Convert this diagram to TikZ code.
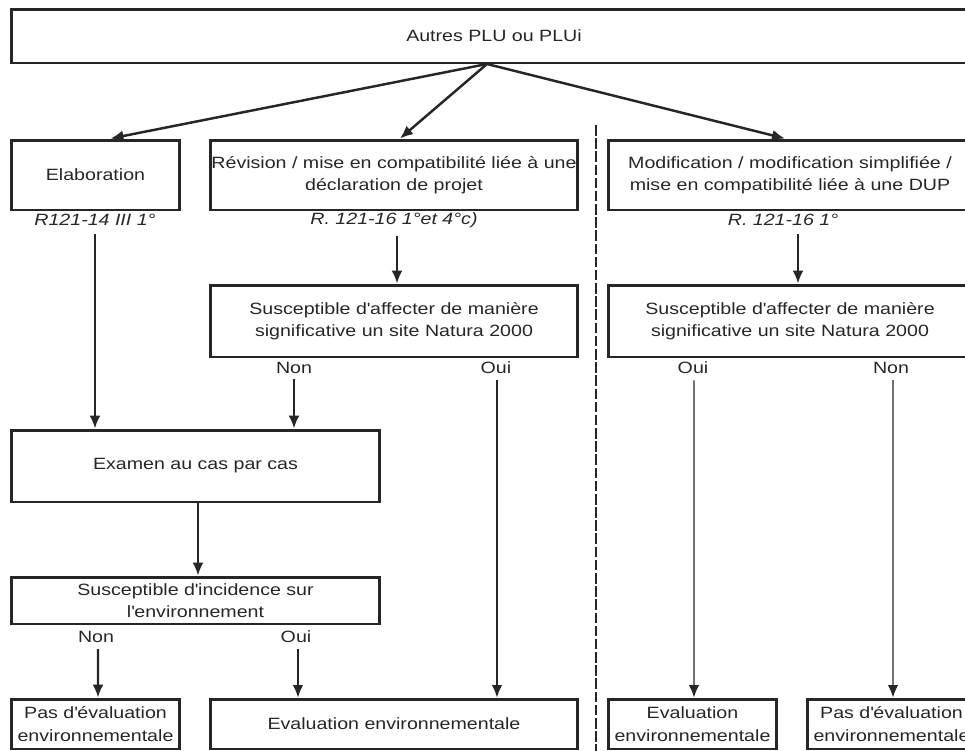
\documentclass[tikz,border=0pt]{standalone}
\usepackage{fontspec}
\setmainfont[FakeStretch=1.2]{Liberation Sans}
\usepackage{tikz}
\usetikzlibrary{arrows.meta, calc}

\tikzset{
  box/.style={draw=black!85, line width=1.7pt, inner sep=0pt, align=center,
    text=black!85, font=\fontsize{9.3}{12.8}\selectfont},
  note/.style={inner sep=0pt, text=black!85, font=\fontsize{9.3}{12.8}\selectfont},
  refnote/.style={note, font=\fontsize{9.3}{12.8}\selectfont\itshape},
  toparr/.style={black!85, line width=1.4pt, -{Latex[length=0.26cm, width=0.22cm]}},
  arr/.style={black!85, line width=1.2pt, -{Latex[length=0.26cm, width=0.22cm]}},
  thinarr/.style={black!85, line width=0.8pt, -{Latex[length=0.25cm, width=0.21cm]}},
  sep/.style={black!85, line width=1pt, dash pattern=on 6pt off 1.5pt}
}
\newcommand{\apos}{\textquotesingle}

\begin{document}
\begin{tikzpicture}[x=0.02cm, y=-0.02cm]
                    \useasboundingbox (0,0) rectangle (965,751);
                    \clip (0,0) rectangle (965,751);
                    \node[box, minimum width=19.32cm, minimum height=1.08cm] (plu) at (494,36) {Autres PLU ou PLUi};
                    \node[box, minimum width=3.38cm, minimum height=1.4cm] (elab) at (95.5,175) {Elaboration};
                    \node[box, minimum width=7.36cm, minimum height=1.4cm] (rev) at (394,175) {Révision / mise en compatibilité liée à une\\déclaration de projet};
                    \node[box, minimum width=7.28cm, minimum height=1.4cm] (modif) at (790,175) {Modification / modification simplifiée /\\mise en compatibilité liée à une DUP};
                    \node[refnote] (refelab) at (95,220) {R121-14 III 1°};
                    \node[refnote] (refrev) at (394,220) {R. 121-16 1°et 4°c)};
                    \node[refnote] (refmodif) at (783,220) {R. 121-16 1°};
                    \node[box, minimum width=7.36cm, minimum height=1.44cm] (natg) at (394,321) {Susceptible d\apos affecter de manière\\significative un site Natura 2000};
                    \node[box, minimum width=7.28cm, minimum height=1.44cm] (natd) at (790,321) {Susceptible d\apos affecter de manière\\significative un site Natura 2000};
                    \node[note] (nong) at (294,368) {Non};
                    \node[note] (ouig) at (496,368) {Oui};
                    \node[note] (ouid) at (693,368) {Oui};
                    \node[note] (nond) at (891,368) {Non};
                    \node[box, minimum width=7.38cm, minimum height=1.44cm] (exam) at (195.5,466) {Examen au cas par cas};
                    \node[box, minimum width=7.38cm, minimum height=0.94cm] (incid) at (195.5,600.5) {Susceptible d\apos incidence sur\\l\apos environnement};
                    \node[note] (noninc) at (96,637) {Non};
                    \node[note] (ouiinc) at (296,637) {Oui};
                    \node[box, minimum width=3.38cm, minimum height=1.0cm] (pasg) at (95.5,724) {Pas d\apos évaluation\\environnementale};
                    \node[box, minimum width=7.36cm, minimum height=1.0cm] (evalg) at (394,724) {Evaluation environnementale};
                    \node[box, minimum width=3.38cm, minimum height=1.0cm] (evald) at (692.5,724) {Evaluation\\environnementale};
                    \node[box, minimum width=3.38cm, minimum height=1.0cm] (pasd) at (891.5,724) {Pas d\apos évaluation\\environnementale};
                    % arrows from the top box
                    \coordinate (fork) at (487,64);
                    \draw[toparr] (fork) -- ($(elab.north)+(15,0)$);
                    \draw[toparr] (fork) -- ($(rev.north)+(6,0)$);
                    \draw[toparr] (fork) -- ($(modif.north)+(-5,0)$);
                    \draw[arr] ($(refelab.south)+(0,8)$) -- (refelab.south |- exam.north);
                    \draw[arr] ($(refrev.south)+(3,8)$) -- ($(natg.north)+(3,0)$);
                    \draw[arr] ($(refmodif.south)+(15,8)$) -- ($(natd.north)+(8,0)$);
                    \draw[arr] ($(nong.south)+(0,5)$) -- (nong.south |- exam.north);
                    \draw[thinarr] ($(ouig.south)+(1,6)$) -- ($(evalg.north)+(103,0)$);
                    \draw[thinarr] ($(ouid.south)+(1,6)$) -- ($(evald.north)+(1.5,0)$);
                    \draw[thinarr] ($(nond.south)+(2,6)$) -- ($(pasd.north)+(1.5,0)$);
                    \draw[arr] ($(exam.south)+(2.5,0)$) -- ($(incid.north)+(2.5,0)$);
                    \draw[arr] ($(noninc.south)+(2,6)$) -- ($(pasg.north)+(2.5,0)$);
                    \draw[thinarr] ($(ouiinc.south)+(2,6)$) -- ($(evalg.north)+(-96,0)$);
                    % separation
                    \draw[sep] (596,125) -- (596,751);
                \end{tikzpicture}
\end{document}
